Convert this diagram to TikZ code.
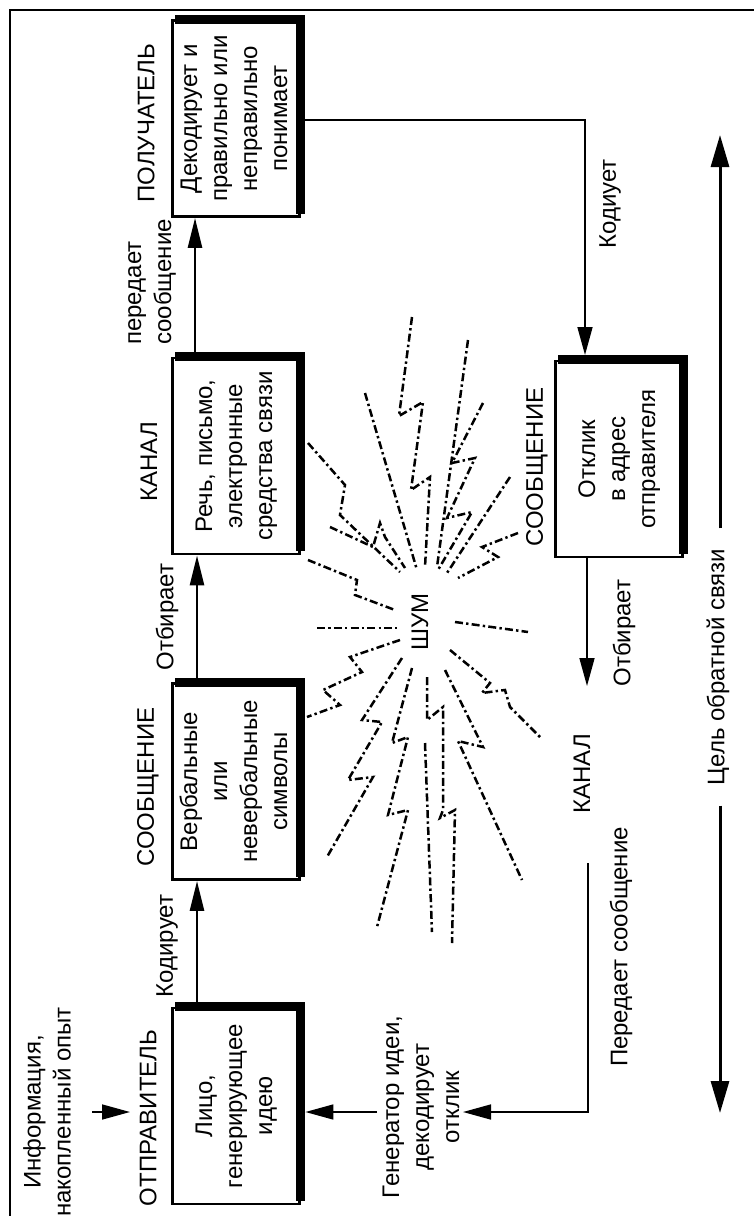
\documentclass[tikz,border=0pt]{standalone}
\usepackage{fontspec}
\setmainfont{Liberation Sans}
\usetikzlibrary{arrows.meta}
\begin{document}
\begin{tikzpicture}[x=0.5pt,y=-0.5pt,
  every node/.style={font=\fontsize{12}{15}\selectfont},
  box/.style={draw, line width=1.4pt, minimum width=63.5pt, minimum height=98pt, inner sep=0pt},
  band/.style={line width=4.5pt},
  lbl/.style={rotate=90, inner sep=1pt},
  arr/.style={line width=1.3pt, -{Triangle[length=15pt,width=7pt]}},
  tarr/.style={line width=0.8pt, -{Triangle[length=14pt,width=7.5pt]}},
  bigarr/.style={line width=1.5pt, -{Triangle[length=16pt,width=9pt]}},
  noise/.style={line width=1.25pt, dash pattern=on 4pt off 1.6pt on 1.2pt off 1.6pt}
]
\useasboundingbox (0,0) rectangle (754,1216);
\draw[line width=1.3pt] (10,1220) -- (10,10) -- (758,10);

% boxes
\node[box] (rec) at (236,118.5) {\rotatebox{90}{\begin{tabular}{@{}c@{}}Декодирует и\\правильно или\\неправильно\\понимает\end{tabular}}};
\node[box] (chan) at (236,456) {\rotatebox{90}{\begin{tabular}{@{}c@{}}Речь, письмо,\\электронные\\средства связи\end{tabular}}};
\node[box] (msg) at (236,781.5) {\rotatebox{90}{\begin{tabular}{@{}c@{}}Вербальные\\или\\невербальные\\символы\end{tabular}}};
\node[box] (snd) at (236,1106) {\rotatebox{90}{\begin{tabular}{@{}c@{}}Лицо,\\генерирующее\\идею\end{tabular}}};
\node[box] (resp) at (619,459) {\rotatebox{90}{\begin{tabular}{@{}c@{}}Отклик\\в адрес\\отправителя\end{tabular}}};
\foreach \b in {rec,chan,msg,snd,resp}{
  \draw[band] ([xshift=2pt]\b.north west) -- (\b.north east) -- ([yshift=2pt]\b.south east);
}

% titles
\node[lbl] (tRec) at (146,123) {ПОЛУЧАТЕЛЬ};
\node[lbl] (tChan) at (149,462) {КАНАЛ};
\node[lbl] (tMsg) at (148,787) {СООБЩЕНИЕ};
\node[lbl] (tSnd) at (148,1118) {ОТПРАВИТЕЛЬ};
\node[lbl] (tResp) at (537,467) {СООБЩЕНИЕ};
\node[lbl] (tChan2) at (582,774) {КАНАЛ};

% labels
\node[lbl] (lKod) at (167,946) {Кодирует};
\node[lbl] (lOtb) at (167,617) {Отбирает};
\node[lbl, align=left] (lPer) at (152,282) {передает\\сообщение};
\node[lbl] (lKod2) at (610,204) {Кодиует};
\node[lbl] (lOtb2) at (624,633) {Отбирает};
\node[lbl] (lPer2) at (621,947) {Передает сообщение};
\node[lbl, align=center] (gen) at (421,1107) {Генератор идеи,\\декодирует\\отклик};
\node[lbl, align=center] (info) at (47,1112) {Информация,\\накопленный опыт};
\node[lbl, inner xsep=10pt] (goal) at (718,667) {Цель обратной связи};
\node[lbl] (noiseC) at (420,622) {ШУМ};

% main arrows
\draw[arr] ([xshift=-19.5pt]snd.north) -- ([xshift=-19.5pt]msg.south);
\draw[arr] ([xshift=-19.5pt]msg.north) -- ([xshift=-19.5pt]chan.south);
\draw[arr] ([xshift=-20.5pt]chan.north) -- ([xshift=-20.5pt]rec.south);

% feedback loop
\draw[tarr] ([yshift=-0.75pt]rec.east) -| ([xshift=-17pt,yshift=2.3pt]resp.north);
\coordinate (c1) at (587,686);
\draw[tarr] ([xshift=-16pt]resp.south) -- (c1);
\coordinate (c2) at (588,863);
\coordinate (gtip) at (463,1112);
\draw[tarr] (c2) |- (gtip);
\coordinate (g2) at (377,1112);
\draw[tarr] (g2) -- ([xshift=2.25pt]snd.east |- g2);
\coordinate (i1) at (92,1112);
\coordinate (i2) at (130,1112);
\draw[tarr] (i1) -- (i2);

% goal double arrow
\coordinate (gt) at (720,135);
\coordinate (gb) at (720,1113);
\draw[bigarr] (goal.east -| gt) -- (gt);
\draw[bigarr] (goal.west -| gb) -- (gb);

% noise rays
\draw[noise] (412,317) -- (399,416) -- (423,402) -- (411,490) -- (430,477) -- (425,567);
\draw[noise] (468,340) -- (437,567);
\draw[noise] (483,403) -- (452,463) -- (475,458) -- (447,518) -- (472,512) -- (438,570);
\draw[noise] (365,393) -- (417,570);
\draw[noise] (308,443) -- (345,485) -- (340,515) -- (400,572);
\draw[noise] (510,477) -- (447,573);
\draw[noise] (518,533) -- (482,547) -- (498,557) -- (458,578);
\draw[noise] (330,527) -- (373,547) -- (380,523) -- (385,537) -- (405,568);
\draw[noise] (308,560) -- (357,580) -- (355,595) -- (395,610);
\draw[noise] (317,628) -- (397,628);
\draw[noise] (455,622) -- (528,632);
\draw[noise] (400,640) -- (350,657) -- (362,672) -- (323,690) -- (340,705) -- (307,717);
\draw[noise] (402,658) -- (362,720) -- (382,722) -- (348,780) -- (373,777) -- (327,857);
\draw[noise] (412,668) -- (392,743) -- (408,737) -- (388,815) -- (408,810) -- (377,927);
\draw[noise] (427,677) -- (427,720) -- (443,707) -- (443,810) -- (440,818) -- (455,810) -- (452,943);
\draw[noise] (425,743) -- (432,932);
\draw[noise] (445,670) -- (483,747) -- (458,741) -- (522,880);
\draw[noise] (450,650) -- (490,683) -- (482,693) -- (505,690) -- (510,707) -- (540,737);
\end{tikzpicture}
\end{document}
